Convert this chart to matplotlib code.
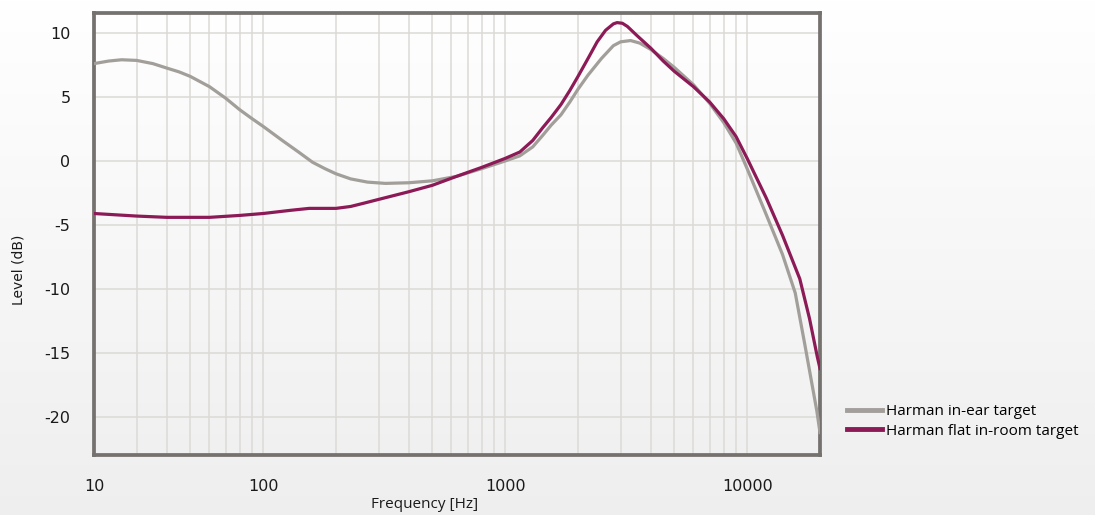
import numpy as np
import matplotlib
matplotlib.use("Agg")
import matplotlib.pyplot as plt

# Harman in-ear target
freq_inear = [20, 23, 26, 30, 35, 40, 45, 50, 60, 70, 80, 90, 100, 120, 140, 160, 180, 200,
              230, 270, 320, 400, 500, 630, 800, 1000, 1150, 1300, 1430, 1550, 1700, 1850,
              2000, 2200, 2500, 2800, 3000, 3300, 3600, 4000, 4500, 5000, 6000, 7000, 8000,
              9000, 10000, 12000, 14000, 15800, 17300, 19400, 20000]
level_inear = [7.6, 7.8, 7.9, 7.85, 7.6, 7.25, 6.95, 6.6, 5.8, 4.9, 4.0, 3.3, 2.7, 1.6, 0.7, -0.1, -0.6, -1.0,
               -1.4, -1.65, -1.75, -1.7, -1.55, -1.2, -0.6, 0.0, 0.4, 1.1, 2.0, 2.8, 3.6, 4.6,
               5.6, 6.7, 8.0, 9.0, 9.3, 9.4, 9.2, 8.7, 8.0, 7.3, 5.95, 4.5, 3.0,
               1.4, -0.6, -4.2, -7.3, -10.3, -14.3, -19.5, -21.2]

# Harman flat in-room target
freq_room = [20, 30, 40, 60, 80, 100, 130, 155, 200, 230, 260, 300, 400, 500, 630, 800, 1000,
             1150, 1300, 1430, 1550, 1700, 1850, 2000, 2200, 2400, 2600, 2800, 2900, 3050,
             3200, 3500, 4000, 4500, 5000, 6000, 7000, 8000, 9000, 10000, 12000, 14000,
             16500, 18100, 19500, 20000]
level_room = [-4.1, -4.3, -4.4, -4.4, -4.25, -4.1, -3.85, -3.7, -3.7, -3.55, -3.3, -3.0, -2.4, -1.9, -1.2, -0.5, 0.2,
              0.7, 1.6, 2.6, 3.4, 4.4, 5.5, 6.6, 8.0, 9.3, 10.2, 10.7, 10.8, 10.75,
              10.5, 9.8, 8.8, 7.8, 7.0, 5.8, 4.6, 3.3, 1.9, 0.2, -2.9, -5.8,
              -9.2, -12.3, -15.3, -16.2]

x_ticks = [20, 100, 1000, 10000]
x_ticklabels = ["10", "100", "1000", "10000"]
y_ticks = [10, 5, 0, -5, -10, -15, -20]
y_ticklabels = ["10", "5", "0", "-5", "-10", "-15", "-20"]
grid_freqs = [30, 40, 50, 60, 70, 80, 90, 100,
              200, 300, 400, 500, 600, 700, 800, 900, 1000,
              2000, 3000, 4000, 5000, 6000, 7000, 8000, 9000, 10000]

fig = plt.figure(figsize=(10.95, 5.15), dpi=100)

# background gradient, white at top to light grey at bottom
bg = fig.add_axes([0, 0, 1, 1], zorder=-10)
grad = np.linspace(1.0, 0.935, 256).reshape(-1, 1)
bg.imshow(np.dstack([grad, grad, grad]), aspect="auto", extent=[0, 1, 0, 1])
bg.axis("off")

ax = fig.add_axes([94 / 1095, 1 - 455 / 515, 726 / 1095, 442 / 515])
ax.set_facecolor("none")
ax.set_xscale("log")
ax.set_xlim(20, 20000)
ax.set_ylim(-22.95, 11.55)

for f in grid_freqs:
    ax.axvline(f, color="#dcdad6", lw=1.1, zorder=1)
for y in y_ticks:
    ax.axhline(y, color="#dcdad6", lw=1.1, zorder=1)

ax.plot(freq_inear, level_inear, color="#a29e9a", lw=2.3, zorder=3,
        label="Harman in-ear target", solid_joinstyle="round")
ax.plot(freq_room, level_room, color="#8c1a56", lw=2.3, zorder=4,
        label="Harman flat in-room target", solid_joinstyle="round")

ax.set_xticks(x_ticks)
ax.set_xticklabels(x_ticklabels)
ax.xaxis.set_minor_locator(matplotlib.ticker.NullLocator())
ax.set_yticks(y_ticks)
ax.set_yticklabels(y_ticklabels)
ax.tick_params(length=0, labelsize=11.5, colors="#1a1a1a")
ax.tick_params(axis="y", pad=17)
ax.tick_params(axis="x", pad=17)

for sp in ax.spines.values():
    sp.set_color("#74716e")
    sp.set_linewidth(2.7)

fig.text(18 / 1095, 1 - 270 / 515, "Level (dB)", rotation=90, ha="center", va="center",
         fontsize=10, color="#1a1a1a")
fig.text(425 / 1095, 1 - 505 / 515, "Frequency [Hz]", ha="center", va="center",
         fontsize=11, family="Open Sans", color="#1a1a1a")

leg = fig.legend(loc="center left", bbox_to_anchor=(847 / 1095, 1 - 421.5 / 515),
                 frameon=False, borderpad=0, borderaxespad=0, handlelength=2.3,
                 handletextpad=0.25, labelspacing=0.3,
                 prop={"family": "Open Sans", "size": 11})
for line in leg.get_lines():
    line.set_linewidth(3.5)

fig.savefig("out.png", dpi=100)
